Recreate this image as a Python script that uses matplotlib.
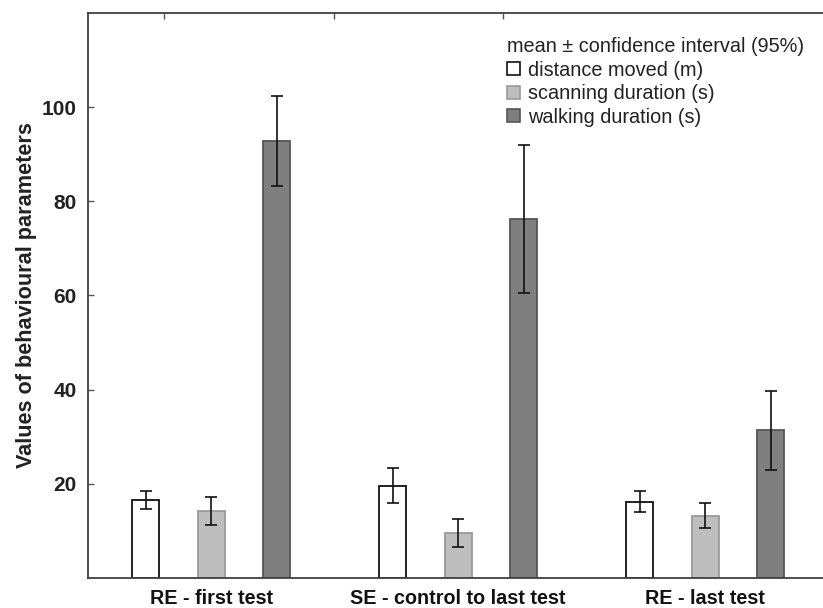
import numpy as np
import matplotlib.pyplot as plt
from matplotlib.patches import Patch

plt.rcParams['font.family'] = ['Liberation Sans', 'DejaVu Sans']

groups = ["RE - first test", "SE - control to last test", "RE - last test"]
series = ["distance moved (m)", "scanning duration (s)", "walking duration (s)"]

distance_mean = [16.6, 19.6, 16.2]
distance_ci = [1.9, 3.7, 2.3]
scanning_mean = [14.2, 9.5, 13.2]
scanning_ci = [3.0, 3.0, 2.7]
walking_mean = [92.8, 76.2, 31.3]
walking_ci = [9.6, 15.7, 8.3]

yticks = [20, 40, 60, 80, 100]
top_ticks = [-0.19, 0.495, 1.18]

fills = ["#ffffff", "#bebebe", "#7f7f7f"]
edges = ["#111111", "#9a9a9a", "#555555"]

fig = plt.figure(figsize=(8.23, 6.08), dpi=100)
ax = fig.add_axes([0.1066, 0.0498, 0.9004, 0.9284])

x = np.arange(len(groups))
offsets = [-0.265, 0.0, 0.265]
width = 0.11
means = [distance_mean, scanning_mean, walking_mean]
cis = [distance_ci, scanning_ci, walking_ci]

for off, m, ci, fc, ec in zip(offsets, means, cis, fills, edges):
    ax.bar(x + off, m, width, color=fc, edgecolor=ec, linewidth=1.3, zorder=2)
    ax.errorbar(x + off, m, yerr=ci, fmt='none', ecolor='#111111',
                elinewidth=1.2, capsize=4, capthick=1.2, zorder=3)

ax.set_xlim(-0.5, 2.5)
ax.set_ylim(0, 120)
ax.set_xticks(x)
ax.set_xticklabels(groups, fontsize=14.2, fontweight='bold', color='#111111')
ax.set_yticks(yticks)
ax.set_yticklabels([str(v) for v in yticks], fontsize=15, fontweight='bold', color='#222222')
ax.tick_params(axis='both', direction='in', length=4, width=1, color='#555555')
ax.tick_params(axis='x', pad=8)
ax.tick_params(axis='y', pad=8)
ax.set_ylabel("Values of behavioural parameters", fontsize=15.6, fontweight='bold',
              color='#222222', labelpad=3)

top = ax.secondary_xaxis('top')
top.set_xticks(top_ticks)
top.set_xticklabels([])
top.tick_params(direction='in', length=4, width=1, color='#555555')

for side in ['left', 'bottom', 'top', 'right']:
    ax.spines[side].set_color('#404040')
    ax.spines[side].set_linewidth(1.3)
top.spines['top'].set_visible(False)

handles = [Patch(facecolor=fc, edgecolor=ec, linewidth=1.2) for fc, ec in zip(fills, edges)]
leg = ax.legend(handles, series, title="mean \u00b1 confidence interval (95%)",
                loc='upper left', bbox_to_anchor=(507 / 823, 1 - 37 / 608),
                bbox_transform=fig.transFigure, frameon=False, fontsize=14.3,
                title_fontsize=14.3, handlelength=0.65, handleheight=0.65,
                handletextpad=0.4, labelspacing=0.23, borderpad=0,
                borderaxespad=0, alignment='left')
for t in leg.get_texts():
    t.set_color('#222222')
leg.get_title().set_color('#222222')

fig.savefig("out.png", dpi=100)
